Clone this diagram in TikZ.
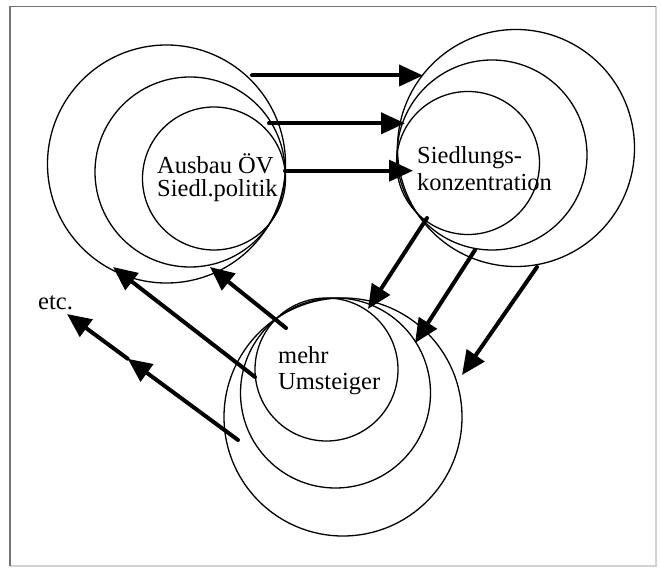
\documentclass[tikz,border=0pt]{standalone}
\usepackage{fontspec}
\setmainfont{Liberation Serif}
\usetikzlibrary{arrows.meta,calc}
\begin{document}
\begin{tikzpicture}[x=1pt,y=-1pt,
  ring/.style={circle,draw=black,line width=1.3pt,inner sep=0pt,outer sep=0pt},
  bigarrow/.style={line width=4pt,line cap=round,-{Triangle[length=24pt,width=21pt]}},
  lbl/.style={anchor=base west,inner sep=0pt,font=\fontsize{24.5}{26}\selectfont}]
\useasboundingbox (0,0) rectangle (661,569);
% frame
\draw[gray!35,line width=1.2pt] (656,6.5) -- (656,566) -- (10,566);
\draw[black!55,line width=1.6pt] (10,566) -- (10,6.5) -- (656,6.5);
% left circles
\node[ring,minimum size=238pt] (L3) at (166.5,164) {};
\node[ring,minimum size=190pt] (L2) at (190,172) {};
\node[ring,minimum size=143pt] (L1) at (214,178.5) {};
% right circles
\node[ring,minimum size=237pt] (R3) at (516,148) {};
\node[ring,minimum size=190pt] (R2) at (492,155) {};
\node[ring,minimum size=143pt] (R1) at (468,163) {};
% bottom circles
\node[ring,minimum size=238pt] (B3) at (343,417) {};
\node[ring,minimum size=190pt] (B2) at (335.5,393) {};
\node[ring,minimum size=143pt] (B1) at (326.5,369.5) {};
% texts
\node[lbl] (ta1) at (157,173.5) {Ausbau ÖV};
\node[lbl] (ta2) at (157,196.5) {Siedl.politik};
\node[lbl] (tb1) at (417,164) {Siedlungs-};
\node[lbl] (tb2) at (417,191) {konzentration};
\node[lbl] (tc1) at (278,363.5) {mehr};
\node[lbl] (tc2) at (278,389) {Umsteiger};
\node[lbl] (te) at (38,309) {etc.};
% arrow end points
\coordinate (h1s) at (252,75.5);  \coordinate (h1e) at (423,75.5);
\coordinate (h2s) at (269,123.3); \coordinate (h2e) at (405,123.3);
\coordinate (h3s) at (285,170.7); \coordinate (h3e) at (413,170.7);
\coordinate (d1s) at (427,218);   \coordinate (d1e) at (368,309);
\coordinate (d2s) at (475,250);   \coordinate (d2e) at (415,343);
\coordinate (d3s) at (537,267);   \coordinate (d3e) at (462,375);
\coordinate (u1s) at (286,328);   \coordinate (u1e) at (210,267);
\coordinate (u2s) at (255,377);   \coordinate (u2e) at (113,267);
\coordinate (u3s) at (238,440);   \coordinate (u3e) at (67,314);
\coordinate (u3m) at ($(u3s)!0.645!(u3e)$);
% arrows
\draw[bigarrow] (h1s) -- (h1e);
\draw[bigarrow] (h2s) -- (h2e);
\draw[bigarrow] (h3s) -- (h3e);
\draw[bigarrow] (d1s) -- (d1e);
\draw[bigarrow] (d2s) -- (d2e);
\draw[bigarrow] (d3s) -- (d3e);
\draw[bigarrow] (u1s) -- (u1e);
\draw[bigarrow] (u2s) -- (u2e);
\draw[bigarrow] (u3s) -- (u3m);
\draw[bigarrow] (u3m) -- (u3e);
\end{tikzpicture}
\end{document}
